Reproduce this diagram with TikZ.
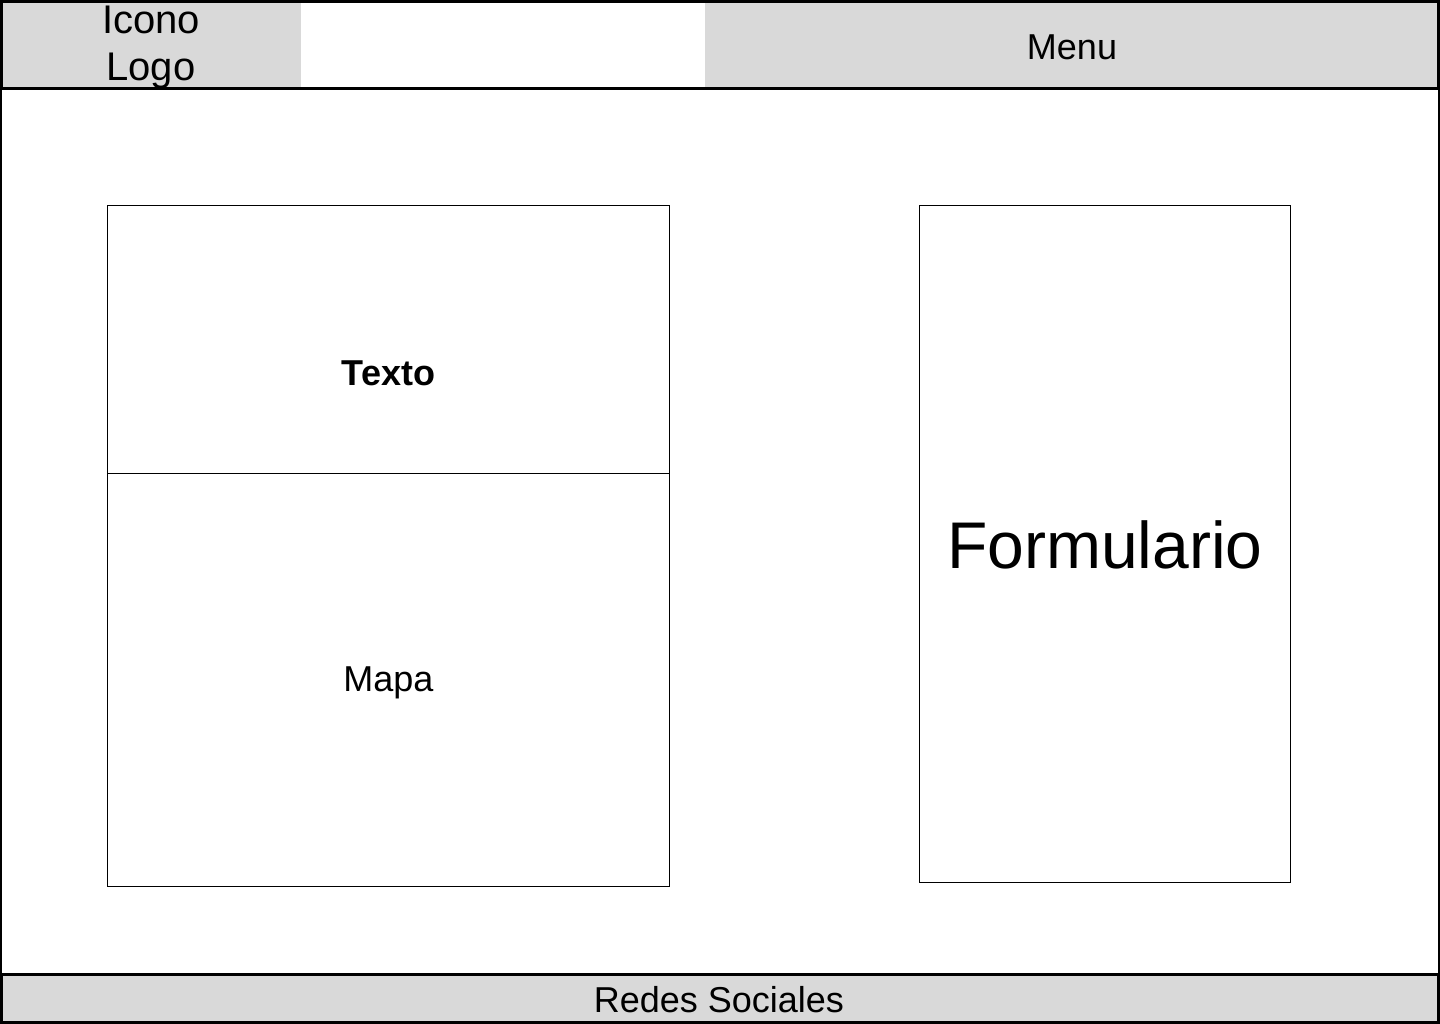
\documentclass[tikz,border=0pt]{standalone}
\usepackage{fontspec}
\setmainfont{Liberation Sans}
\definecolor{panelgray}{HTML}{D9D9D9}
\begin{document}
\begin{tikzpicture}[x=1pt,y=-1pt,
  frame/.style={draw=black,line width=3pt},
  thinbox/.style={draw=black,line width=1pt,inner sep=0pt,outer sep=0pt},
  lbl/.style={inner sep=0pt,font=\fontsize{36}{43}\selectfont},
  biglbl/.style={inner sep=0pt,font=\fontsize{66}{79}\selectfont},
  logolbl/.style={inner sep=0pt,align=center,font=\fontsize{40}{47}\selectfont}]
\useasboundingbox (0,0) rectangle (1440,1024);
\fill[white] (0,0) rectangle (1440,1024);
% body frame
\draw[line width=1.5pt] (0.75,88) rectangle (1438.75,974);
% header
\draw[frame,fill=white] (1.5,1.5) rectangle (1438.5,88.5);
\fill[panelgray] (3,3) rectangle (301,87);
\fill[panelgray] (705,3) rectangle (1437,87);
\node[logolbl] (logo) at (151,47) {Icono\\Logo};
\node[lbl] (menu) at (1072,47) {Menu};
% footer
\draw[frame,fill=panelgray] (1.5,974.5) rectangle (1438.5,1022.5);
\node[lbl] (redes) at (719,1000) {Redes Sociales};
% left column
\node[thinbox,minimum width=562pt,minimum height=268pt] (textobox) at (388.5,339.5) {};
\node[thinbox,minimum width=562pt,minimum height=413pt] (mapabox) at (388.5,679.5) {};
\node[lbl,font=\fontsize{36}{43}\selectfont\bfseries] (texto) at (388.5,373) {Texto};
\node[lbl] (mapa) at (388.5,683) {Mapa};
% right column
\node[thinbox,minimum width=371pt,minimum height=677pt] (formbox) at (1105,544) {};
\node[biglbl] (form) at (1105,545) {Formulario};
\end{tikzpicture}
\end{document}
